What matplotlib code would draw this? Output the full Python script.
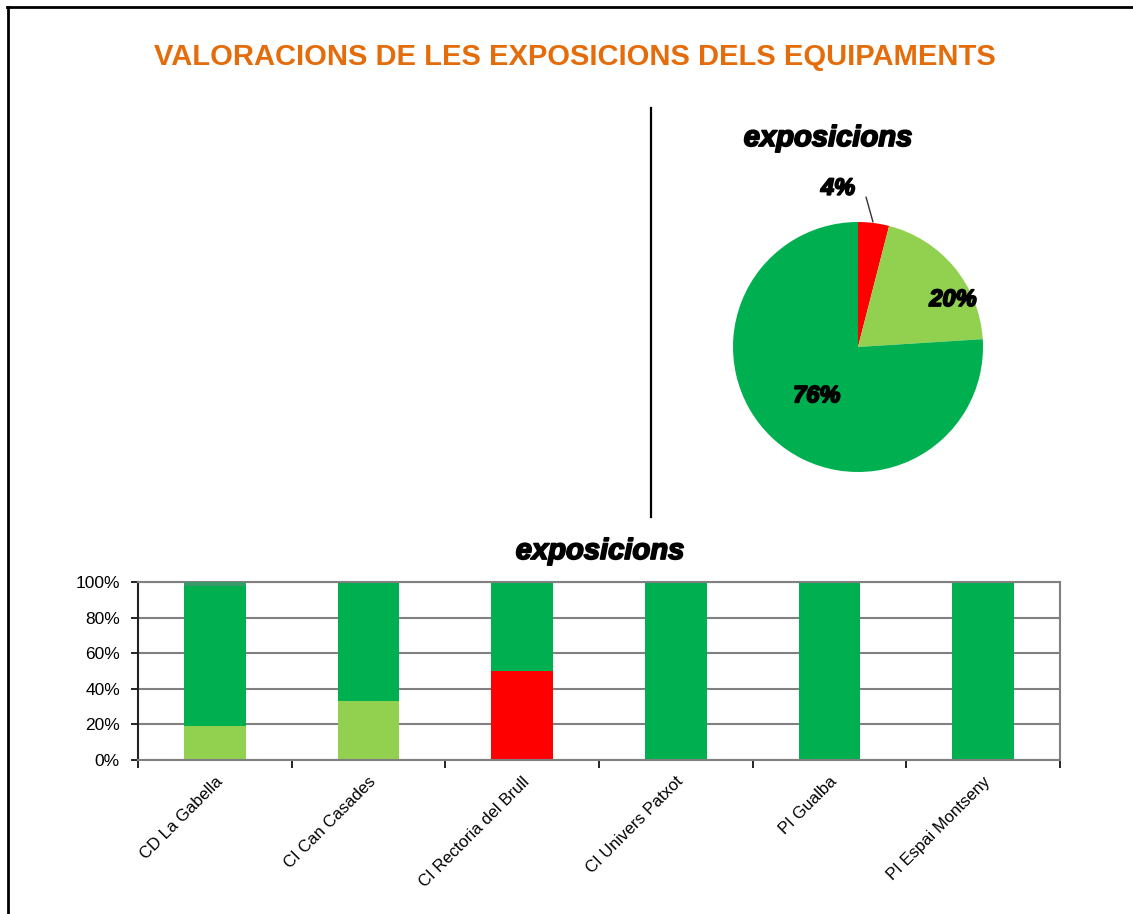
import matplotlib.pyplot as plt
import matplotlib.patheffects as pe
from matplotlib.lines import Line2D

plt.rcParams['font.family'] = ['Liberation Sans', 'DejaVu Sans']

title = "VALORACIONS DE LES EXPOSICIONS DELS EQUIPAMENTS"
sub_title = "exposicions"

# pie data
pie_labels = ["4%", "20%", "76%"]
pie_values = [4, 20, 76]
pie_colors = ["#FF0000", "#92D050", "#00B050"]

# stacked bar data (percent)
centres = ["CD La Gabella", "CI Can Casades", "CI Rectoria del Brull",
           "CI Univers Patxot", "PI Gualba", "PI Espai Montseny"]
light_green = [19, 33, 0, 0, 0, 0]
red = [0, 0, 50, 0, 0, 0]
dark_green = [78.5, 67, 50, 100, 100, 100]
other = [2.5, 0, 0, 0, 0, 0]

heavy = [pe.withStroke(linewidth=1.3, foreground="black")]

fig = plt.figure(figsize=(11.33, 9.14), dpi=100)

fig.text(575 / 1133, 1 - 57 / 914, title, ha="center", va="center",
         color="#E46C0A", fontsize=21, fontweight="bold")

# frame lines
fig.add_artist(Line2D([7 / 1133, 1], [1 - 7 / 914, 1 - 7 / 914], color="black", lw=2))
fig.add_artist(Line2D([7.5 / 1133, 7.5 / 1133], [0, 1 - 7 / 914], color="black", lw=2))
fig.add_artist(Line2D([651 / 1133, 651 / 1133], [1 - 108 / 914, 1 - 517 / 914], color="black", lw=1.6))

# pie
ax_pie = fig.add_axes([733 / 1133, 1 - 472 / 914, 250 / 1133, 250 / 914])
ax_pie.pie(pie_values, colors=pie_colors, startangle=90, counterclock=False,
           wedgeprops={"linewidth": 0})
ax_pie.set_xlim(-1, 1)
ax_pie.set_ylim(-1, 1)
ax_pie.set_aspect("equal")
txt_kw = dict(fontsize=17, fontweight="bold", fontstyle="italic", ha="center",
              va="center", path_effects=heavy)
ax_pie.text(0.76, 0.38, pie_labels[1], **txt_kw)
ax_pie.text(-0.33, -0.39, pie_labels[2], **txt_kw)
ax_pie.text(-0.16, 1.27, pie_labels[0], **txt_kw)
ax_pie.annotate("", xy=(0.12, 1.0), xytext=(0.064, 1.2),
                arrowprops=dict(arrowstyle="-", color="#333333", lw=1,
                                shrinkA=0, shrinkB=0),
                annotation_clip=False)
fig.text(828 / 1133, 1 - 138 / 914, sub_title, ha="center", va="center",
         fontsize=21, fontweight="bold", fontstyle="italic", path_effects=heavy)

# stacked bars
ax = fig.add_axes([138 / 1133, 1 - 760 / 914, 922 / 1133, 178 / 914])
x = range(len(centres))
w = 0.4
ax.bar(x, light_green, w, color="#92D050", zorder=2)
bottom = light_green
ax.bar(x, red, w, bottom=bottom, color="#FF0000", zorder=2)
bottom = [a + b for a, b in zip(bottom, red)]
ax.bar(x, dark_green, w, bottom=bottom, color="#00B050", zorder=2)
bottom = [a + b for a, b in zip(bottom, dark_green)]
ax.bar(x, other, w, bottom=bottom, color="#3A9A6A", zorder=3)

ax.set_xlim(-0.5, len(centres) - 0.5)
ax.set_ylim(0, 100)
ax.set_yticks(range(0, 101, 20))
ax.set_yticklabels([f"{v}%" for v in range(0, 101, 20)], fontsize=12.5)
ax.yaxis.grid(True, color="#808080", lw=1.5, zorder=0)
ax.set_xticks([i - 0.5 for i in range(len(centres) + 1)])
ax.set_xticklabels([])
ax.set_xticks(list(x), minor=True)
ax.set_xticklabels(centres, minor=True, rotation=45, ha="right", va="top",
                   rotation_mode="anchor", fontsize=12)
ax.tick_params(axis="x", which="minor", length=0, pad=10)
ax.tick_params(axis="x", which="major", length=6, color="black", width=1.2)
ax.tick_params(axis="y", length=5, color="black", width=1.2, pad=8)
for s in ["left", "right", "top", "bottom"]:
    ax.spines[s].set_color("#808080")
    ax.spines[s].set_linewidth(1.5)
ax.spines["left"].set_color("#222222")
fig.text(600 / 1133, 1 - 551 / 914, sub_title, ha="center", va="center",
         fontsize=21, fontweight="bold", fontstyle="italic", path_effects=heavy)

plt.savefig("out.png")
